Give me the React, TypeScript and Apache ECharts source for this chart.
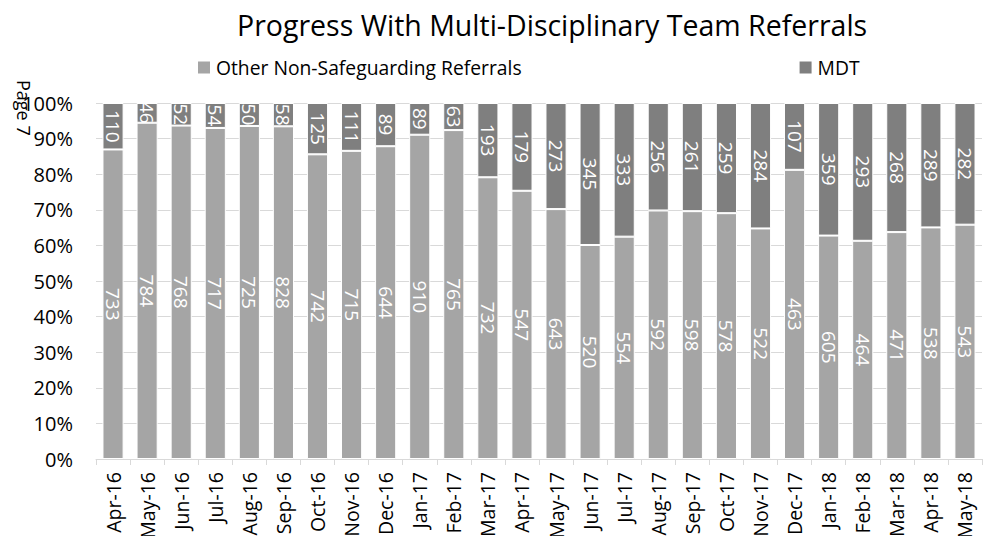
import React, { useEffect, useRef } from "react";
import * as echarts from "echarts";

const categories = [
  "Apr-16", "May-16", "Jun-16", "Jul-16", "Aug-16", "Sep-16", "Oct-16", "Nov-16", "Dec-16",
  "Jan-17", "Feb-17", "Mar-17", "Apr-17", "May-17", "Jun-17", "Jul-17", "Aug-17", "Sep-17",
  "Oct-17", "Nov-17", "Dec-17", "Jan-18", "Feb-18", "Mar-18", "Apr-18", "May-18",
];
const otherReferrals = [
  733, 784, 768, 717, 725, 828, 742, 715, 644, 910, 765, 732, 547, 643, 520, 554, 592, 598,
  578, 522, 463, 605, 464, 471, 538, 543,
];
const mdtReferrals = [
  110, 46, 52, 54, 50, 58, 125, 111, 89, 89, 63, 193, 179, 273, 345, 333, 256, 261,
  259, 284, 107, 359, 293, 268, 289, 282,
];
const yTicks = [0, 10, 20, 30, 40, 50, 60, 70, 80, 90, 100];

const TITLE = "Progress With Multi-Disciplinary Team Referrals";
const FONT = "'Open Sans', sans-serif";

export default function App() {
  const ref = useRef<HTMLDivElement>(null);
  useEffect(() => {
    if (!ref.current) return;
    const chart = echarts.init(ref.current, undefined, { renderer: "svg" });
    const totals = otherReferrals.map((v, i) => v + mdtReferrals[i]);
    const pct = (arr: number[]) =>
      arr.map((v, i) => ({ value: (v / totals[i]) * 100, raw: v }));
    const labelCfg = {
      show: true,
      position: "inside",
      rotate: -90,
      color: "#ffffff",
      fontFamily: FONT,
      fontSize: 19,
      formatter: (p: any) => String(p.data.raw),
    };
    chart.setOption({
      animation: false,
      backgroundColor: "#ffffff",
      title: {
        text: TITLE,
        left: 232,
        top: 5,
        textStyle: { fontFamily: FONT, fontWeight: "normal", fontSize: 28.5, color: "#000" },
      },
      legend: {
        top: 53,
        left: 191,
        itemGap: 276,
        itemWidth: 14,
        itemHeight: 14,
        icon: "rect",
        textStyle: { fontFamily: FONT, fontSize: 19.3, color: "#000" },
        data: ["Other Non-Safeguarding Referrals", "MDT"],
      },
      graphic: [
        {
          type: "text",
          x: 15,
          y: 80,
          rotation: -Math.PI / 2,
          style: {
            text: "Page 7",
            fontFamily: FONT,
            fontSize: 18,
            fill: "#000",
            textVerticalAlign: "bottom",
          },
          z: 100,
        },
      ],
      grid: { left: 96, right: 11, top: 103, bottom: 85 },
      xAxis: {
        type: "category",
        data: categories,
        axisLine: { lineStyle: { color: "#d9d9d9", width: 1 } },
        axisTick: { show: true, length: 6, lineStyle: { color: "#d9d9d9" } },
        axisLabel: {
          rotate: 90,
          interval: 0,
          margin: 13,
          fontFamily: FONT,
          fontSize: 19.5,
          color: "#000",
        },
      },
      yAxis: {
        type: "value",
        min: 0,
        max: 100,
        interval: 10,
        axisLine: { show: false },
        axisTick: { show: false },
        axisLabel: {
          fontFamily: FONT,
          fontSize: 20,
          color: "#000",
          margin: 23,
          formatter: (v: number) => (yTicks.includes(v) ? `${v}%` : ""),
        },
        splitLine: { lineStyle: { color: "#d9d9d9", width: 1 } },
      },
      series: [
        {
          name: "Other Non-Safeguarding Referrals",
          type: "bar",
          stack: "total",
          barCategoryGap: "38%",
          data: pct(otherReferrals),
          itemStyle: { color: "#a5a5a5", borderColor: "#ffffff", borderWidth: 1 },
          label: labelCfg,
        },
        {
          name: "MDT",
          type: "bar",
          stack: "total",
          barCategoryGap: "38%",
          data: pct(mdtReferrals),
          itemStyle: { color: "#7f7f7f", borderColor: "#ffffff", borderWidth: 1 },
          label: labelCfg,
        },
      ],
    });
    return () => chart.dispose();
  }, []);
  return <div ref={ref} style={{ width: 993, height: 544, margin: -8 }} />;
}
